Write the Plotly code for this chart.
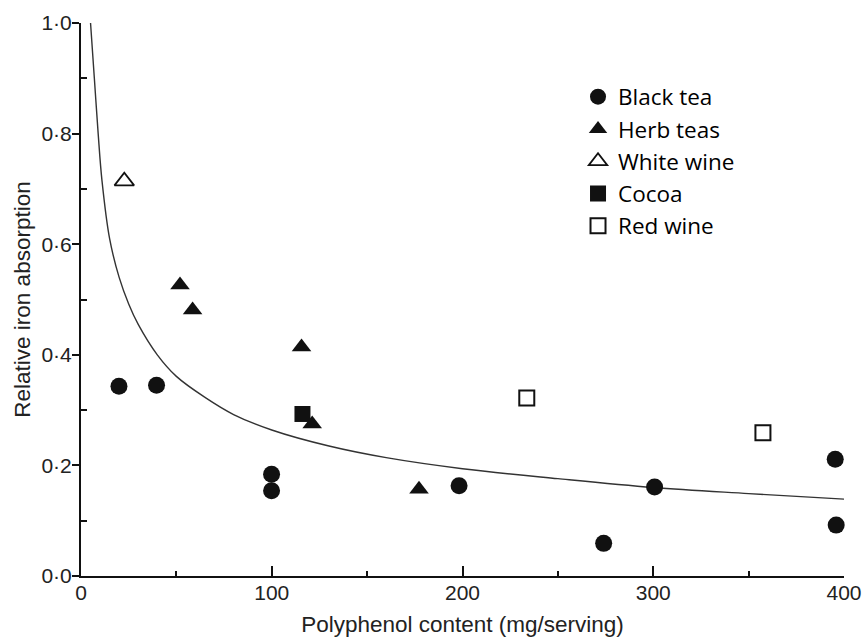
import plotly.graph_objects as go

# ---- data ----
black_tea_x = [19.9, 39.6, 99.9, 99.9, 198.2, 274.0, 300.7, 395.4, 395.9]
black_tea_y = [0.343, 0.345, 0.184, 0.154, 0.163, 0.059, 0.161, 0.211, 0.092]

herb_x = [51.9, 58.5, 115.6, 121.2, 177.2]
herb_y = [0.526, 0.481, 0.414, 0.275, 0.157]

white_wine_x = [22.7]
white_wine_y = [0.714]

cocoa_x = [116.1]
cocoa_y = [0.293]

red_wine_x = [233.7, 357.5]
red_wine_y = [0.322, 0.259]

# fitted curve, points
curve_x = [5, 7, 9, 11, 15, 20, 25, 30, 40, 50, 65, 80, 100,
           130, 160, 200, 250, 300, 350, 400]
curve_y = [1.0, 0.90, 0.80, 0.715, 0.61, 0.54, 0.492, 0.455, 0.40, 0.361, 0.323, 0.292, 0.264,
           0.235, 0.214, 0.194, 0.176, 0.160, 0.149, 0.139]

x_ticks = [0, 100, 200, 300, 400]
x_ticktext = ["0", "100", "200", "300", "400"]
x_minor = [50, 150, 250, 350]
y_ticks = [0.0, 0.2, 0.4, 0.6, 0.8, 1.0]
y_ticktext = ["0·0", "0·2", "0·4", "0·6", "0·8", "1·0"]
y_minor = [0.1, 0.3, 0.5, 0.7, 0.9]

INK = "#111111"
TXT = "#222222"

fig = go.Figure()

fig.add_trace(go.Scatter(
    x=curve_x, y=curve_y, mode="lines", line=dict(color="#333333", width=1.4, shape="spline"),
    showlegend=False, hoverinfo="skip"))

fig.add_trace(go.Scatter(
    x=black_tea_x, y=black_tea_y, mode="markers", name="Black tea",
    marker=dict(symbol="circle", size=17, color=INK, line=dict(width=0))))
fig.add_trace(go.Scatter(
    x=herb_x, y=herb_y, mode="markers", name="Herb teas",
    marker=dict(symbol="triangle-up", size=17, color=INK, line=dict(width=0))))
fig.add_trace(go.Scatter(
    x=white_wine_x, y=white_wine_y, mode="markers", name="White wine",
    marker=dict(symbol="triangle-up-open", size=17, color=INK, line=dict(width=1.8, color=INK))))
fig.add_trace(go.Scatter(
    x=cocoa_x, y=cocoa_y, mode="markers", name="Cocoa",
    marker=dict(symbol="square", size=16, color=INK, line=dict(width=0))))
fig.add_trace(go.Scatter(
    x=red_wine_x, y=red_wine_y, mode="markers", name="Red wine",
    marker=dict(symbol="square-open", size=15, color=INK, line=dict(width=2, color=INK))))

fig.update_layout(
    width=867, height=637,
    margin=dict(l=81, r=23, t=23, b=61),
    plot_bgcolor="white", paper_bgcolor="white",
    font=dict(family="Liberation Sans, Arial, sans-serif", size=21, color=TXT),
    legend=dict(
        x=0.6514, y=0.905, xanchor="left", yanchor="top",
        font=dict(family="Open Sans, sans-serif", size=22.5, color="#000000"),
        itemwidth=30, bgcolor="rgba(0,0,0,0)", tracegroupgap=0,
    ),
)

fig.update_xaxes(
    range=[0, 400], showgrid=False, zeroline=False, automargin=False,
    showline=True, linecolor=INK, linewidth=2,
    tickmode="array", tickvals=x_ticks, ticktext=x_ticktext,
    ticks="inside", ticklen=10, tickwidth=1.5, tickcolor=INK,
    ticklabelstandoff=-3,
    minor=dict(tickmode="array", tickvals=x_minor, ticks="inside", ticklen=5,
               tickwidth=1.5, tickcolor=INK, showgrid=False),
    title=dict(text="Polyphenol content (mg/serving)", font=dict(size=22.5, color=TXT), standoff=13),
)
fig.update_yaxes(
    range=[0, 1.0], showgrid=False, zeroline=False, automargin=False,
    showline=True, linecolor=INK, linewidth=2,
    tickmode="array", tickvals=y_ticks, ticktext=y_ticktext,
    ticks="outside", ticklen=7, tickwidth=1.5, tickcolor=INK,
    ticklabelstandoff=-4,
    minor=dict(tickmode="array", tickvals=y_minor, ticks="inside", ticklen=6,
               tickwidth=1.5, tickcolor=INK, showgrid=False),
    title=dict(text="Relative iron absorption", font=dict(size=22.5, color=TXT), standoff=5),
)

fig.update_traces(cliponaxis=False, selector=dict(mode="markers"))

fig.write_html("out.html")
